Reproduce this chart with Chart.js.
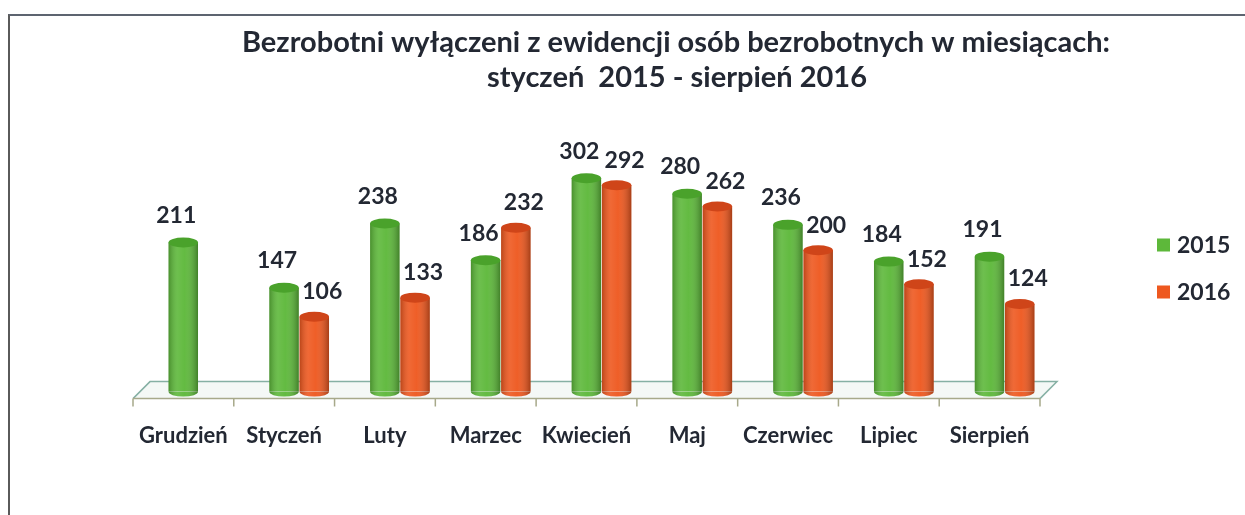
<!DOCTYPE html>
<html>
<head>
<meta charset="utf-8">
<script src="https://cdn.jsdelivr.net/npm/chart.js@4.4.1/dist/chart.umd.min.js"></script>
<style>
  html, body { margin: 0; padding: 0; background: #ffffff; }
  #frame { position: absolute; left: 8px; top: 14px; width: 1237px; height: 501px;
           border-left: 2px solid #5a5a5a; border-top: 2px solid #5d6470; box-sizing: border-box; }
  #c { position: absolute; left: 0; top: 0; }
</style>
</head>
<body>
<div id="frame"></div>
<canvas id="c" width="1245" height="515"></canvas>
<script>
const titleLines = ['Bezrobotni wyłączeni z ewidencji osób bezrobotnych w miesiącach:', 'styczeń  2015 - sierpień 2016'];
const categories = ['Grudzień', 'Styczeń', 'Luty', 'Marzec', 'Kwiecień', 'Maj', 'Czerwiec', 'Lipiec', 'Sierpień'];
const seriesLabels = ['2015', '2016'];
const values2015 = [211, 147, 238, 186, 302, 280, 236, 184, 191];
const values2016 = [null, 106, 133, 232, 292, 262, 200, 152, 124];

const FONT = 'Lato, "Open Sans", sans-serif';
const TEXT = '#232833';
const COLORS = ['#5db83a', '#ee581f'];
const TOPS = ['#4aa22b', '#cf4519'];
const DEPTH_X = 15, DEPTH_Y = 10;

function ellipse(ctx, x, y, rx, ry) {
  ctx.beginPath();
  ctx.ellipse(x, y, rx, ry, 0, 0, Math.PI * 2);
}

const cylinderPlugin = {
  id: 'cyl',
  beforeDatasetsDraw(chart) {
    const ctx = chart.ctx, xs = chart.scales.x, ys = chart.scales.y;
    const base = ys.getPixelForValue(0);
    const fy = base + 7, by = base - DEPTH_Y;
    ctx.save();
    ctx.beginPath();
    ctx.moveTo(xs.left, fy);
    ctx.lineTo(xs.right, fy);
    ctx.lineTo(xs.right + 17, by);
    ctx.lineTo(xs.left + 17, by);
    ctx.closePath();
    ctx.fillStyle = 'rgba(236,243,240,0.6)';
    ctx.fill();
    ctx.lineWidth = 1.5;
    ctx.strokeStyle = '#86b0a4';
    ctx.beginPath();
    ctx.moveTo(xs.left, fy); ctx.lineTo(xs.left + 17, by); ctx.lineTo(xs.right + 17, by); ctx.lineTo(xs.right, fy);
    ctx.stroke();
    ctx.strokeStyle = '#a7a98a';
    ctx.beginPath();
    ctx.moveTo(xs.left, fy); ctx.lineTo(xs.right, fy);
    const n = chart.data.labels.length;
    const step = (xs.right - xs.left) / n;
    for (let i = 0; i <= n; i++) {
      const x = xs.left + i * step;
      ctx.moveTo(x, fy); ctx.lineTo(x, fy + 8);
    }
    ctx.stroke();
    ctx.restore();
    ctx.save();
    ctx.translate(DEPTH_X, 0);
  },
  afterDatasetsDraw(chart) {
    const ctx = chart.ctx;
    chart.data.datasets.forEach((ds, di) => {
      const meta = chart.getDatasetMeta(di);
      meta.data.forEach((el, i) => {
        if (ds.data[i] == null) return;
        const w = el.width, x = el.x, top = el.y, base = el.base;
        const rx = w / 2, ry = 5;
        ctx.beginPath();
        ctx.ellipse(x, base, rx, ry, 0, 0, Math.PI);
        ctx.fillStyle = COLORS[di];
        ctx.fill();
        const g = ctx.createLinearGradient(x - rx, 0, x + rx, 0);
        g.addColorStop(0, 'rgba(0,0,0,0.22)');
        g.addColorStop(0.3, 'rgba(255,255,255,0.10)');
        g.addColorStop(0.55, 'rgba(255,255,255,0.04)');
        g.addColorStop(1, 'rgba(0,0,0,0.30)');
        ctx.fillStyle = g;
        ctx.fillRect(x - rx, top, w, base - top);
        ctx.beginPath();
        ctx.ellipse(x, base, rx, ry, 0, 0, Math.PI);
        ctx.fill();
        ellipse(ctx, x, top, rx, ry);
        ctx.fillStyle = TOPS[di];
        ctx.fill();
      });
    });
    ctx.restore();
    ctx.save();
    ctx.font = 'bold 23px ' + FONT;
    ctx.fillStyle = TEXT;
    ctx.textAlign = 'center';
    ctx.textBaseline = 'middle';
    const offs = [[-7, -27], [8, -25]];
    chart.data.datasets.forEach((ds, di) => {
      const meta = chart.getDatasetMeta(di);
      meta.data.forEach((el, i) => {
        if (ds.data[i] == null) return;
        ctx.fillText(String(ds.data[i]), el.x + DEPTH_X + offs[di][0], el.y + offs[di][1]);
      });
    });
    ctx.restore();
  },
  afterDraw(chart) {
    const ctx = chart.ctx;
    ctx.save();
    ctx.fillStyle = TEXT;
    ctx.textBaseline = 'middle';
    ctx.textAlign = 'center';
    ctx.font = 'bold 29px ' + FONT;
    ctx.fillText(titleLines[0], 676, 43);
    ctx.fillText(titleLines[1], 677, 78);
    ctx.textAlign = 'left';
    ctx.font = 'bold 23px ' + FONT;
    chart.data.datasets.forEach((ds, di) => {
      const y = 245 + di * 47;
      ctx.fillStyle = COLORS[di];
      ctx.fillRect(1157, y - 6.5, 13, 13);
      ctx.fillStyle = TEXT;
      ctx.fillText(ds.label, 1177, y + 1);
    });
    ctx.restore();
  }
};

new Chart(document.getElementById('c'), {
  type: 'bar',
  data: {
    labels: categories,
    datasets: [
      { label: seriesLabels[0], data: values2015, backgroundColor: COLORS[0], borderWidth: 0 },
      { label: seriesLabels[1], data: values2016, backgroundColor: COLORS[1], borderWidth: 0 }
    ]
  },
  options: {
    responsive: false,
    animation: false,
    layout: { padding: { left: 133, right: 205, top: 109, bottom: 35 } },
    datasets: { bar: { categoryPercentage: 0.6, barPercentage: 0.975 } },
    plugins: { legend: { display: false }, title: { display: false }, tooltip: { enabled: false } },
    scales: {
      x: {
        grid: { display: false, drawTicks: false },
        border: { display: false },
        ticks: { padding: 31, color: TEXT, font: { family: FONT, weight: 'bold', size: 22 } }
      },
      y: { display: false, min: 0, max: 400 }
    }
  },
  plugins: [cylinderPlugin]
});
</script>
</body>
</html>
